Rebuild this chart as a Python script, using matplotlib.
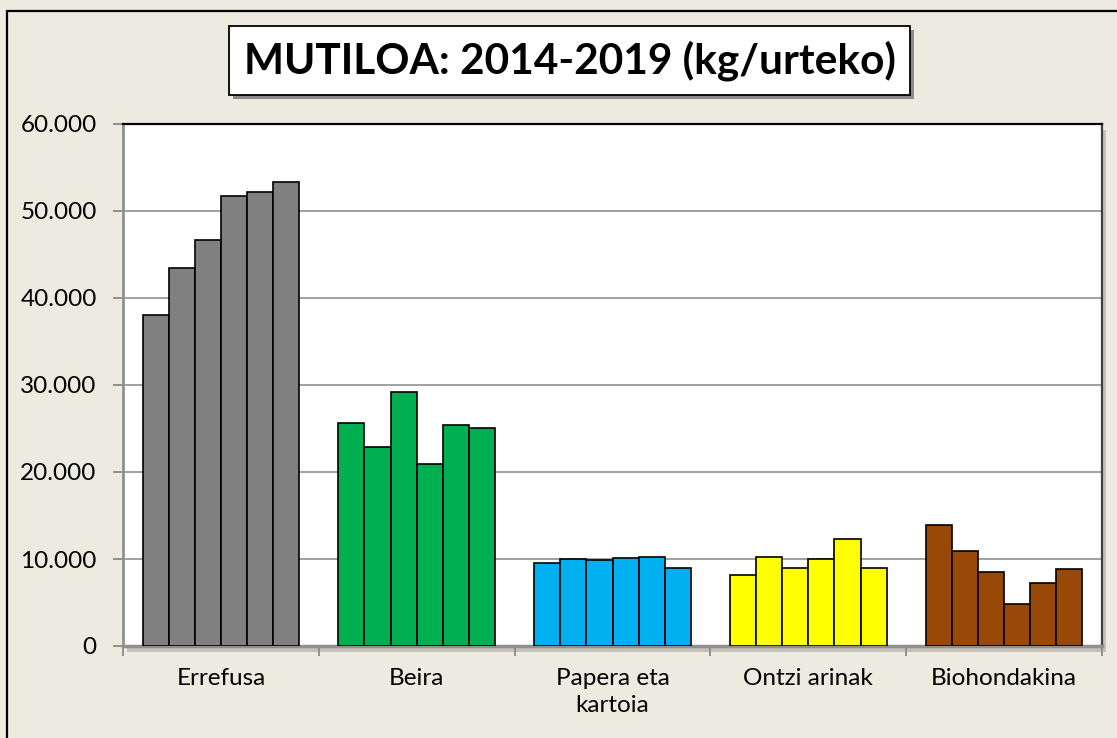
import matplotlib
matplotlib.use("Agg")
import matplotlib.pyplot as plt
from matplotlib.patches import Rectangle
from matplotlib.ticker import FuncFormatter
import numpy as np

plt.rcParams['font.family'] = ['Lato', 'DejaVu Sans']

categories = ['Errefusa', 'Beira', 'Papera eta\nkartoia', 'Ontzi arinak', 'Biohondakina']
years = ['2014', '2015', '2016', '2017', '2018', '2019']
# kg per year, one list per category (2014..2019)
errefusa = [38060, 43480, 46690, 51700, 52240, 53350]
beira = [25650, 22850, 29220, 20960, 25360, 25070]
papera = [9540, 10040, 9850, 10150, 10270, 9000]
ontzi = [8120, 10230, 9000, 10040, 12270, 9000]
bio = [13920, 10960, 8500, 4880, 7270, 8880]
colors = ['#808080', '#00B050', '#00B0F0', '#FFFF00', '#984807']
title = 'MUTILOA: 2014-2019 (kg/urteko)'

W, H = 1117, 738
bg = '#EDEAE0'
fig = plt.figure(figsize=(W / 100, H / 100), dpi=100, facecolor=bg)

# outer frame
fig.patches.append(Rectangle((7 / W, -0.05), 1.2, 1 - 11 / H + 0.05, transform=fig.transFigure,
                             fill=False, edgecolor='black', linewidth=1.6, zorder=-2))

left, right, top, bottom = 123, 1102, 124, 646
rect = [left / W, 1 - bottom / H, (right - left) / W, (bottom - top) / H]

# plot area shadow
fig.patches.append(Rectangle(((left + 4) / W, 1 - (bottom + 6) / H), (right - left) / W, (bottom - top) / H,
                             transform=fig.transFigure, facecolor='#C4C2BA', edgecolor='none', zorder=-1))

ax = fig.add_axes(rect)
ax.set_zorder(1)
ax.set_facecolor('white')

data = [errefusa, beira, papera, ontzi, bio]
x = np.arange(len(categories))
n = len(years)
bw = 0.8 / n
for i, (vals, c) in enumerate(zip(data, colors)):
    pos = x[i] - 0.4 + bw / 2 + bw * np.arange(n)
    ax.bar(pos, vals, width=bw, color=c, edgecolor='black', linewidth=1.2, zorder=3)

ax.set_xlim(-0.5, len(categories) - 0.5)
ax.set_ylim(0, 60000)
ax.set_yticks(np.arange(0, 60001, 10000))
ax.yaxis.set_major_formatter(FuncFormatter(lambda v, p: f'{int(v):,}'.replace(',', '.')))
ax.yaxis.grid(True, color='#A0A0A0', linewidth=1.4, zorder=0)
ax.set_axisbelow(True)

ax.set_xticks(x)
ax.set_xticklabels(categories, fontsize=17.5, linespacing=1.35)
ax.set_xticks(np.arange(-0.5, len(categories)), minor=True)
ax.tick_params(axis='x', which='major', length=0, pad=16)
ax.tick_params(axis='x', which='minor', length=7, width=1.4, color='#909090')
ax.tick_params(axis='y', length=7, width=1.4, color='#909090', labelsize=17.5, pad=12)

ax.spines['left'].set_color('#909090')
ax.spines['left'].set_linewidth(2)
ax.spines['bottom'].set_color('#909090')
ax.spines['bottom'].set_linewidth(2.5)
ax.spines['top'].set_color('black')
ax.spines['top'].set_linewidth(1.6)
ax.spines['right'].set_color('#404040')
ax.spines['right'].set_linewidth(1.6)

# title box with shadow
bx0, bx1, by0, by1 = 229, 910, 26, 95
fig.patches.append(Rectangle(((bx0 + 4) / W, 1 - (by1 + 4) / H), (bx1 - bx0) / W, (by1 - by0) / H,
                             transform=fig.transFigure, facecolor='#8A8A8A', edgecolor='none', zorder=1))
fig.patches.append(Rectangle((bx0 / W, 1 - by1 / H), (bx1 - bx0) / W, (by1 - by0) / H,
                             transform=fig.transFigure, facecolor='white', edgecolor='black', linewidth=1.3, zorder=2))
fig.text((bx0 + bx1) / 2 / W, 1 - (by0 + by1) / 2 / H, title, ha='center', va='center',
         fontsize=30.5, fontweight='bold', zorder=3)

fig.savefig('out.png', dpi=100, facecolor=bg)
